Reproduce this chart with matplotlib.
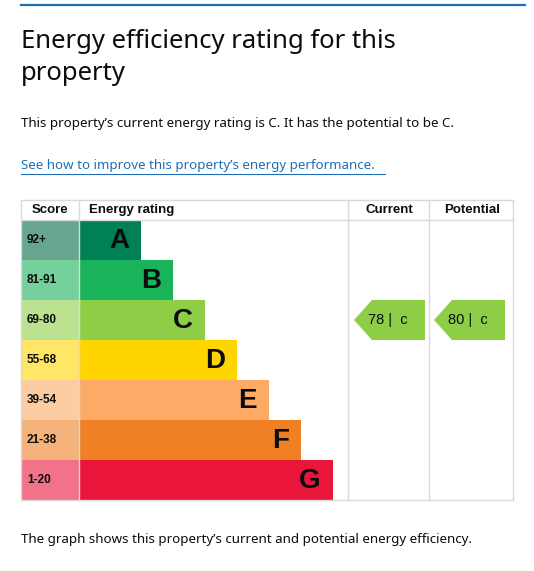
import matplotlib
matplotlib.use("Agg")
import matplotlib.pyplot as plt
from matplotlib.patches import Rectangle, Polygon

BANDS = ["A", "B", "C", "D", "E", "F", "G"]
SCORES = ["92+", "81-91", "69-80", "55-68", "39-54", "21-38", "1-20"]
BAR_END = [141, 173, 205, 237, 269, 301, 333]   # right edge of each bar, px
BAR_COL = ["#008054", "#19b459", "#8dce46", "#ffd500", "#fcaa65", "#ef8023", "#e9153b"]
SCORE_COL = ["#66a68f", "#75d19b", "#bbe291", "#ffe666", "#fdcca3", "#f5b37b", "#f27389"]
CURRENT = (78, "C")
POTENTIAL = (80, "C")

INK = "#0b0c0c"; LINK = "#1d70b8"; GRID = "#d9d9d9"
FONT = ["Noto Sans", "DejaVu Sans"]

fig = plt.figure(figsize=(5.34, 5.71), dpi=100)
ax = fig.add_axes([0, 0, 1, 1])
ax.set_xlim(0, 534); ax.set_ylim(571, 0); ax.axis("off")

ax.plot([21, 525], [5, 5], color=LINK, lw=1.6)
ax.text(21, 42, "Energy efficiency rating for this", fontsize=18.5, fontweight="bold",
        color=INK, va="center", family=FONT)
ax.text(21, 73, "property", fontsize=18.5, fontweight="bold", color=INK, va="center", family=FONT)
ax.text(21, 123, "This property\u2019s current energy rating is C. It has the potential to be C.",
        fontsize=9.6, color=INK, va="center", family=FONT)
t = ax.text(21, 166, "See how to improve this property\u2019s energy performance.",
            fontsize=9.6, color=LINK, va="center", family=FONT)
ax.plot([21, 385], [174, 174], color=LINK, lw=0.8)
ax.text(21, 540, "The graph shows this property\u2019s current and potential energy efficiency.",
        fontsize=9.6, color=INK, va="center", family=FONT)

# table frame
top, head, row_h = 200, 220, 40
bottom = head + row_h * len(BANDS)
for x in (21, 79, 348, 429, 513):
    ax.plot([x, x], [top, bottom], color=GRID, lw=1)
ax.plot([21, 513], [top, top], color=GRID, lw=1)
ax.plot([21, 513], [head, head], color=GRID, lw=1)
ax.plot([21, 513], [bottom, bottom], color=GRID, lw=1)
for x, lab in [(50, "Score"), (89, "Energy rating"), (389, "Current"), (472, "Potential")]:
    ax.text(x, 210, lab, fontsize=9.5, fontweight="bold", color=INK, va="center",
            ha="left" if lab == "Energy rating" else "center", family=["Liberation Sans", "DejaVu Sans"])

for i, (b, s, end, bc, sc) in enumerate(zip(BANDS, SCORES, BAR_END, BAR_COL, SCORE_COL)):
    y0 = head + i * row_h
    ax.add_patch(Rectangle((21, y0), 58, row_h, facecolor=sc, edgecolor="none"))
    ax.add_patch(Rectangle((79, y0), end - 79, row_h, facecolor=bc, edgecolor="none"))
    ax.text(27, y0 + row_h / 2, s, fontsize=8.5, fontweight="bold", color=INK, va="center",
            family=["Liberation Sans", "DejaVu Sans"])
    ax.text(end - 12, y0 + row_h / 2 + 1, b, fontsize=20, fontweight="bold", color=INK,
            va="center", ha="right", family=["Liberation Sans", "DejaVu Sans"])


def arrow(x0, x1, val, band):
    i = BANDS.index(band)
    y0 = head + i * row_h
    col = BAR_COL[i]
    ax.add_patch(Polygon([(x0, y0 + row_h / 2), (x0 + 18, y0), (x1, y0), (x1, y0 + row_h),
                          (x0 + 18, y0 + row_h)], closed=True, facecolor=col, edgecolor="none"))
    ax.text(x0 + 14, y0 + row_h / 2, "%d |  %s" % (val, band.lower()), fontsize=10.5,
            color=INK, va="center", family=["Liberation Sans", "DejaVu Sans"])


arrow(354, 425, *CURRENT)
arrow(434, 505, *POTENTIAL)

fig.savefig("out.png", dpi=100, facecolor="white")
